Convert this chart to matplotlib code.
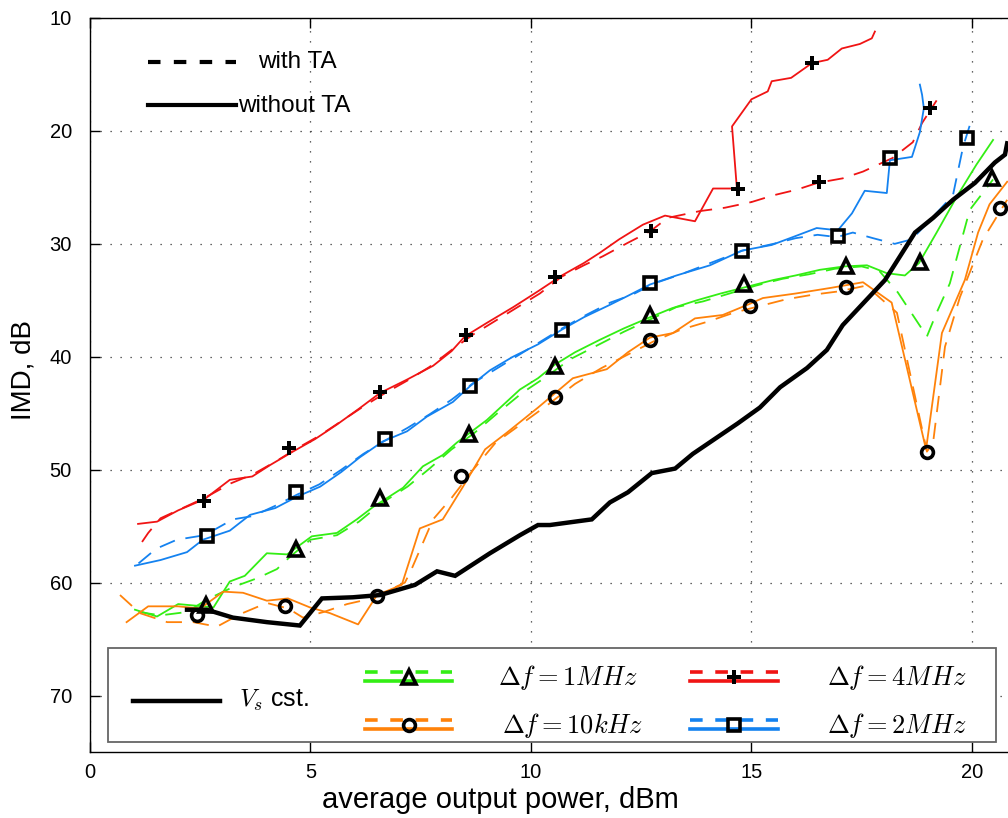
import matplotlib
matplotlib.use('Agg')
import matplotlib.pyplot as plt
from matplotlib.lines import Line2D
from matplotlib.patches import Rectangle

plt.rcParams['font.family'] = ['Liberation Sans', 'DejaVu Sans']
plt.rcParams['mathtext.fontset'] = 'cm'

# ---- data ----
# delta f = 4 MHz (red)
red_x = [1.09, 1.52, 2.0, 2.6, 3.17, 3.68, 4.08, 4.6, 5.1, 5.6, 6.1, 6.58, 7.2, 7.78, 8.2, 8.5, 9.0, 9.6,
         10.16, 10.7, 11.2, 11.56, 12.0, 12.54, 13.04, 13.72, 14.13, 14.67, 14.56, 15.0, 15.37, 15.46, 15.9,
         16.37, 16.73, 17.05, 17.46, 17.73, 17.8]
red_y = [54.8, 54.6, 53.6, 52.6, 50.9, 50.6, 49.6, 48.4, 47.3, 46.0, 44.6, 43.2, 42.0, 40.8, 39.5, 38.2, 37.0, 35.6,
         34.2, 32.8, 31.7, 30.8, 29.6, 28.3, 27.5, 28.0, 25.1, 25.1, 19.6, 17.2, 16.5, 15.6, 15.3,
         14.0, 13.7, 12.7, 12.3, 11.8, 11.2]
red_ta_x = [1.18, 1.32, 1.6, 2.1, 2.6, 3.2, 3.7, 4.2, 4.7, 5.2, 5.7, 6.2, 6.7, 7.2, 7.7, 8.2, 8.7, 9.2, 9.7,
            10.2, 10.7, 11.2, 11.63, 12.2, 12.7, 13.1, 13.83, 14.4, 15.0, 15.5, 16.03, 16.5, 17.07, 17.53,
            18.2, 18.66, 18.87, 19.2]
red_ta_y = [56.4, 55.6, 54.3, 53.4, 52.5, 51.2, 50.4, 49.3, 48.1, 47.0, 45.7, 44.4, 43.2, 42.1, 40.9, 39.4, 38.0,
            36.8, 35.6, 34.4, 32.9, 31.9, 31.1, 29.9, 28.9, 27.7, 27.1, 26.8, 26.3, 25.7, 25.2, 24.6, 24.2,
            23.6, 22.4, 21.0, 19.3, 17.3]
red_mk_x = [2.59, 4.51, 6.58, 8.53, 10.54, 12.72, 14.69, 16.53, 16.37, 19.05]
red_mk_y = [52.8, 48.1, 43.1, 38.1, 32.9, 28.9, 25.1, 24.5, 14.0, 18.0]

# delta f = 2 MHz (blue)
blue_x = [1.02, 1.6, 2.2, 2.56, 3.17, 3.63, 4.2, 4.69, 5.22, 5.7, 6.12, 6.64, 7.19, 7.64, 8.23, 8.62, 9.07,
          9.59, 10.16, 10.7, 11.2, 11.79, 12.2, 12.7, 13.3, 14.06, 14.78, 15.46, 15.94, 16.48, 16.96, 17.28,
          17.57, 18.07, 18.14, 18.64, 18.82, 18.91, 18.87, 18.82]
blue_y = [58.5, 58.0, 57.3, 56.2, 55.4, 54.0, 53.4, 52.4, 51.5, 50.2, 48.9, 47.5, 46.6, 45.3, 44.0, 42.6, 41.2,
          40.0, 38.9, 37.6, 36.5, 35.4, 34.6, 33.6, 32.8, 31.9, 30.6, 30.1, 29.4, 28.6, 28.8, 27.3,
          25.3, 25.5, 22.6, 22.3, 20.1, 18.0, 16.8, 15.9]
blue_ta_x = [1.1, 1.5, 1.97, 2.6, 3.24, 3.7, 4.2, 4.7, 5.2, 5.7, 6.2, 6.7, 7.2, 7.7, 8.2, 8.7, 9.2, 9.7, 10.2,
             10.7, 11.2, 11.8, 12.3, 12.8, 13.4, 14.0, 14.8, 15.5, 16.0, 16.5, 16.94, 17.3, 17.76, 18.25,
             18.64, 19.12, 19.57, 19.8, 20.0]
blue_ta_y = [58.3, 57.0, 56.2, 55.8, 54.4, 54.1, 53.2, 52.2, 51.3, 50.0, 48.6, 47.4, 46.3, 45.1, 43.8, 42.3,
             41.1, 39.9, 38.7, 37.5, 36.4, 35.2, 34.5, 33.5, 32.7, 31.8, 30.6, 30.0, 29.5, 29.2, 29.4, 29.0,
             29.5, 30.0, 29.6, 27.6, 25.7, 21.4, 18.9]
blue_mk_x = [2.65, 4.67, 6.69, 8.62, 10.7, 12.7, 14.78, 16.96, 18.14, 19.89]
blue_mk_y = [55.9, 52.0, 47.3, 42.6, 37.6, 33.5, 30.6, 29.3, 22.4, 20.6]

# delta f = 1 MHz (green)
green_x = [1.02, 1.52, 2.0, 2.56, 2.8, 3.17, 3.51, 4.01, 4.47, 5.03, 5.6, 6.05, 6.42, 7.1, 7.55, 8.0, 8.32,
           9.0, 9.75, 10.16, 10.54, 11.0, 11.56, 12.1, 12.7, 13.2, 13.76, 14.3, 14.9, 15.5, 16.0, 16.55,
           17.1, 17.62, 18.07, 18.48, 18.8, 19.2, 19.66, 20.1, 20.48]
green_y = [62.4, 63.0, 61.9, 62.1, 62.2, 59.9, 59.4, 57.4, 57.5, 55.9, 55.6, 54.4, 53.3, 51.6, 49.7, 48.7, 47.6,
           45.6, 42.9, 41.9, 40.7, 39.6, 38.5, 37.5, 36.5, 35.7, 35.0, 34.4, 33.8, 33.2, 32.8, 32.3,
           32.0, 31.9, 32.6, 32.8, 31.7, 29.0, 25.8, 23.0, 20.8]
green_ta_x = [1.1, 1.6, 2.2, 2.65, 3.24, 3.8, 4.24, 4.54, 5.0, 5.6, 6.1, 6.6, 7.2, 7.7, 8.2, 8.7, 9.3, 9.8,
              10.3, 10.9, 11.5, 12.1, 12.7, 13.3, 13.9, 14.5, 15.1, 15.7, 16.3, 16.9, 17.5, 17.9, 18.32,
              18.98, 19.2, 19.5, 19.95, 20.48]
green_ta_y = [62.6, 62.9, 62.6, 61.5, 60.4, 59.6, 58.8, 57.7, 56.2, 55.8, 54.6, 53.0, 51.5, 49.9, 48.2, 46.8,
              44.8, 43.2, 41.9, 40.2, 39.0, 37.8, 36.7, 35.6, 35.1, 34.4, 33.7, 33.1, 32.7, 32.2, 32.0,
              32.4, 34.3, 38.2, 36.1, 33.5, 27.0, 24.3]
green_mk_x = [2.63, 4.67, 6.58, 8.6, 10.54, 12.7, 14.83, 17.14, 18.82, 20.45]
green_mk_y = [62.0, 57.0, 52.5, 46.8, 40.8, 36.3, 33.6, 32.0, 31.6, 24.2]

# delta f = 10 kHz (orange)
orange_x = [0.83, 1.32, 2.0, 2.5, 3.02, 3.47, 4.01, 4.49, 4.99, 5.44, 6.08, 6.51, 7.07, 7.48, 8.0, 8.46,
            8.96, 9.46, 10.16, 10.95, 11.72, 12.2, 12.7, 13.22, 13.72, 14.35, 14.97, 15.26, 16.0, 16.8,
            17.53, 18.18, 18.96, 19.32, 19.84, 20.14, 20.4, 20.8]
orange_y = [63.5, 62.1, 62.1, 62.3, 60.8, 60.9, 61.6, 61.4, 62.2, 62.7, 63.7, 61.1, 60.2, 55.2, 54.4, 51.5,
            48.2, 46.7, 44.5, 41.9, 41.1, 39.6, 38.3, 37.9, 36.6, 36.3, 35.3, 34.8, 34.4, 33.9,
            33.4, 35.2, 48.2, 37.9, 33.2, 29.0, 26.5, 24.5]
orange_ta_x = [0.68, 1.13, 1.75, 2.34, 2.88, 3.4, 4.01, 4.5, 4.83, 5.3, 5.83, 6.28, 6.6, 7.14, 7.26, 7.78,
               8.2, 8.69, 9.2, 9.8, 10.4, 11.0, 11.6, 12.2, 12.8, 13.4, 14.0, 14.6, 15.2, 15.8, 16.4, 17.0,
               17.6, 18.3, 18.98, 19.12, 19.39, 19.73, 20.25, 20.8]
orange_ta_y = [61.1, 62.7, 63.5, 63.5, 63.9, 62.8, 61.8, 62.3, 63.1, 62.6, 61.9, 61.5, 61.0, 60.0, 59.1, 54.4,
               52.5, 50.0, 47.6, 45.9, 44.2, 42.4, 41.0, 39.8, 38.6, 37.6, 36.9, 36.1, 35.5, 34.9, 34.5, 34.2,
               33.7, 36.1, 48.4, 47.6, 39.1, 34.7, 29.6, 26.1]
orange_mk_x = [2.43, 4.42, 6.51, 8.41, 10.54, 12.7, 14.97, 17.14, 18.98, 20.63]
orange_mk_y = [62.9, 62.1, 61.2, 50.6, 43.6, 38.5, 35.5, 33.8, 48.4, 26.8]

# Vs constant (black)
vs_x = [2.2, 2.65, 3.24, 4.01, 4.76, 5.26, 5.96, 6.58, 7.37, 7.87, 8.28, 9.07, 9.75, 10.16, 10.43, 11.38,
        11.79, 12.2, 12.74, 13.27, 13.67, 14.69, 15.19, 15.65, 16.26, 16.71, 17.07, 18.03, 18.71, 19.12,
        19.57, 20.07, 20.52, 20.75, 20.8]
vs_y = [62.4, 62.4, 63.1, 63.5, 63.8, 61.4, 61.3, 61.1, 60.2, 59.0, 59.4, 57.4, 55.8, 54.9, 54.9, 54.4,
        52.9, 52.0, 50.3, 49.9, 48.6, 45.9, 44.5, 42.7, 41.0, 39.4, 37.2, 33.2, 29.0, 27.7,
        26.1, 24.6, 22.8, 22.1, 21.1]

x_ticks = [0, 5, 10, 15, 20]
y_ticks = [10, 20, 30, 40, 50, 60, 70]

GREEN = '#33ee14'
RED = '#f01414'
BLUE = '#1482f0'
ORANGE = '#ff820a'
DASH = (0, (9, 6))

series = [
    (green_x, green_y, green_ta_x, green_ta_y, green_mk_x, green_mk_y, GREEN, '^', r'$\Delta f = 1MHz$'),
    (orange_x, orange_y, orange_ta_x, orange_ta_y, orange_mk_x, orange_mk_y, ORANGE, 'o', r'$\Delta f = 10kHz$'),
    (red_x, red_y, red_ta_x, red_ta_y, red_mk_x, red_mk_y, RED, 'P', r'$\Delta f = 4MHz$'),
    (blue_x, blue_y, blue_ta_x, blue_ta_y, blue_mk_x, blue_mk_y, BLUE, 's', r'$\Delta f = 2MHz$'),
]

W, H = 1008, 818
fig = plt.figure(figsize=(W / 100, H / 100), dpi=100)
ax = fig.add_axes([90 / W, 1 - 752 / H, 926 / W, 734 / H])


def mk_style(m):
    if m == 'P':
        return dict(marker='P', ms=10, mfc='black', mec='black', mew=0)
    return dict(marker=m, ms=9.5 if m == '^' else 8.5, mfc='none', mec='black', mew=2.6)


for sx, sy, tx, ty, mx, my, col, m, lab in series:
    ax.plot(sx, sy, color=col, lw=1.3, zorder=3)
    ax.plot(tx, ty, color=col, lw=1.3, linestyle=DASH, zorder=3)
    ax.plot(mx, my, linestyle='none', zorder=5, **mk_style(m))

ax.plot(vs_x, vs_y, color='black', lw=3.2, zorder=4, solid_joinstyle='miter')

ax.set_xlim(0, 21)
ax.set_ylim(75, 10)
ax.set_xticks(x_ticks)
ax.set_yticks(y_ticks)
ax.tick_params(direction='in', length=7, width=1, labelsize=14.5, top=True, right=False)
ax.tick_params(axis='x', pad=8)
ax.tick_params(axis='y', pad=13)
ax.grid(True, color='#333333', linestyle=(0, (1, 7)), linewidth=0.9)
for s in ['left', 'bottom', 'top']:
    ax.spines[s].set_linewidth(1.0)
ax.spines['right'].set_visible(False)
ax.set_xlabel('average output power, dBm', fontsize=21)
ax.set_ylabel('IMD, dB', fontsize=20)
ax.xaxis.set_label_coords((500 - 90) / 926, (752 - 800) / 734)
ax.yaxis.set_label_coords((24 - 90) / 926, (752 - 370) / 734)
ax.xaxis.label.set_va('center')
ax.yaxis.label.set_va('center')


def fx(px):
    return px / W


def fy(py):
    return 1 - py / H


# upper-left legend (with / without TA)
fig.add_artist(Line2D([fx(148), fx(236)], [fy(62), fy(62)], color='black', lw=3,
                      linestyle=(0, (3, 3.2))))
fig.text(fx(258), fy(62), 'with TA', fontsize=17.5, va='center', ha='left')
fig.add_artist(Line2D([fx(148), fx(236)], [fy(105), fy(105)], color='black', lw=3))
fig.text(fx(238), fy(106), 'without TA', fontsize=17.5, va='center', ha='left')

# bottom legend box
fig.add_artist(Rectangle((fx(108), fy(742)), fx(996) - fx(108), fy(648) - fy(742),
                         facecolor='white', edgecolor='#666666', lw=1.3, zorder=10))
fig.add_artist(Line2D([fx(133), fx(220)], [fy(701), fy(701)], color='black', lw=3.2, zorder=11))
fig.text(fx(239), fy(700), r'$V_s$ cst.', fontsize=18, va='center', ha='left', zorder=11)

slots = [(365, 452, 498, 678), (365, 452, 502, 726), (690, 778, 827, 678), (690, 778, 827, 726)]
for (sx, sy, tx, ty, mx, my, col, m, lab), (x0, x1, xt, yr) in zip(series, slots):
    fig.add_artist(Line2D([fx(x0), fx(x1)], [fy(yr - 6), fy(yr - 6)], color=col, lw=2.6,
                          linestyle=(0, (3.5, 3.5)), zorder=11))
    fig.add_artist(Line2D([fx(x0), fx(x1)], [fy(yr + 3), fy(yr + 3)], color=col, lw=2.6, zorder=11))
    st = mk_style(m)
    fig.add_artist(Line2D([fx((x0 + x1) / 2)], [fy(yr - 1)], linestyle='none', zorder=12, **st))
    fig.text(fx(xt), fy(yr), lab, fontsize=19, va='center', ha='left', zorder=11)

fig.savefig('out.png', dpi=100)
